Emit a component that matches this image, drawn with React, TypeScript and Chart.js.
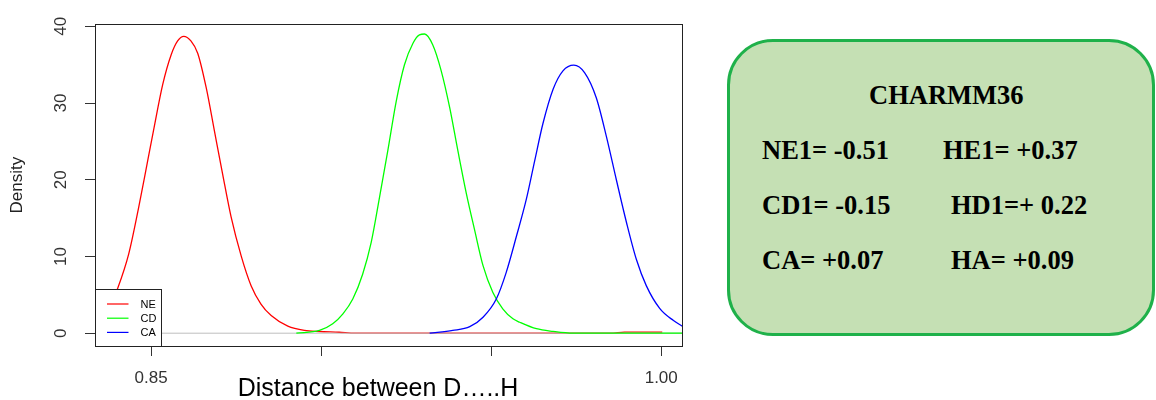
import React, { useEffect, useRef } from 'react';
import { Chart, registerables } from 'chart.js';

Chart.register(...registerables);

// ---- data ----
const neX = [0.8345, 0.8372, 0.8401, 0.8434, 0.8463, 0.8490, 0.8507, 0.8534, 0.8559, 0.8578, 0.8596, 0.8617, 0.8637, 0.8662, 0.8686, 0.8710, 0.8735, 0.8765, 0.8794, 0.8823, 0.8853, 0.8902, 0.8951, 0.8995, 0.9053, 0.9100, 0.9850, 0.9892, 0.9950, 1.0003];
const neY = [0.9, 2.7, 5.75, 10.3, 16.3, 22.5, 26.4, 32.4, 36.3, 38.1, 38.7, 38.1, 36.5, 32.0, 26.4, 20.8, 15.2, 10.05, 6.2, 3.8, 2.3, 0.92, 0.36, 0.22, 0.12, 0.0, 0.0, 0.13, 0.15, 0.13];

const cdX = [0.8927, 0.8995, 0.9034, 0.9064, 0.9093, 0.9122, 0.9147, 0.9172, 0.9196, 0.9221, 0.9245, 0.9270, 0.9289, 0.9304, 0.9328, 0.9353, 0.9378, 0.9402, 0.9427, 0.9451, 0.9476, 0.9505, 0.9534, 0.9564, 0.9584, 0.9633, 0.9682, 0.9740, 1.0070];
const cdY = [0.0, 0.36, 1.23, 2.52, 4.46, 7.69, 11.8, 17.8, 23.8, 30.3, 35.0, 37.8, 38.9, 39.0, 37.6, 34.2, 29.4, 23.8, 18.2, 13.5, 8.8, 5.3, 3.17, 1.87, 1.43, 0.58, 0.23, 0.0, 0.0];

const caX = [0.9319, 0.9387, 0.9437, 0.9476, 0.9515, 0.9544, 0.9574, 0.9603, 0.9628, 0.9652, 0.9682, 0.9711, 0.9743, 0.9775, 0.9809, 0.9839, 0.9868, 0.9898, 0.9927, 0.9956, 0.9996, 1.0036, 1.0070];
const caY = [0.0, 0.36, 0.85, 2.08, 4.46, 7.9, 12.6, 17.4, 22.5, 27.3, 31.8, 34.2, 34.95, 33.95, 30.7, 25.6, 20.0, 14.4, 9.6, 6.2, 3.2, 1.65, 0.7];

const zeroX = [0.8335, 1.0064];
const zeroY = [0, 0];

const seriesLabels = ['NE', 'CD', 'CA'];
const seriesColors = ['#ff0000', '#00ff00', '#0000ff'];

const xTicks = [0.85, 0.9, 0.95, 1.0];
const xLabeledTicks = [0.85, 1.0];
const yTicks = [0, 10, 20, 30, 40];

const X_MIN = 0.8335;
const X_MAX = 1.0064;
const Y_MIN = -1.67;
const Y_MAX = 40.28;

const xTitle = 'Distance between D…..H';
const yTitle = 'Density';

const chargeTitle = 'CHARMM36';
const chargeLeft = ['NE1= -0.51', 'CD1= -0.15', 'CA= +0.07'];
const chargeRight = ['HE1= +0.37', 'HD1=+ 0.22', 'HA= +0.09'];

const zip = (xs: number[], ys: number[]) => xs.map((x, i) => ({ x, y: ys[i] }));

const framePlugin = {
  id: 'rframe',
  afterDatasetsDraw(chart: any) {
    const { ctx, chartArea: a } = chart;
    ctx.save();
    // plot box
    ctx.strokeStyle = '#222';
    ctx.lineWidth = 1;
    ctx.strokeRect(Math.round(a.left) + 0.5, Math.round(a.top) + 0.5, Math.round(a.right - a.left) - 1, Math.round(a.bottom - a.top));
    // legend
    const lw = 66;
    const lh = 57;
    const lx = Math.round(a.left) + 0.5;
    const ly = Math.round(a.bottom) - lh + 0.5;
    ctx.fillStyle = '#ffffff';
    ctx.fillRect(lx, ly, lw, lh);
    ctx.strokeStyle = '#222';
    ctx.strokeRect(lx, ly, lw, lh);
    ctx.font = '11px "Liberation Sans", Arial, sans-serif';
    ctx.textBaseline = 'middle';
    ctx.textAlign = 'left';
    seriesLabels.forEach((lab, i) => {
      const y = ly + 14.5 + i * 14.2;
      ctx.strokeStyle = seriesColors[i];
      ctx.lineWidth = 1.2;
      ctx.beginPath();
      ctx.moveTo(lx + 11.5, y);
      ctx.lineTo(lx + 33, y);
      ctx.stroke();
      ctx.fillStyle = '#000';
      ctx.fillText(lab, lx + 45, y + 0.5);
    });
    // x-axis title (placed like the reference, slightly left of centre)
    ctx.font = '25px "Liberation Sans", Arial, sans-serif';
    ctx.fillStyle = '#000';
    ctx.textAlign = 'center';
    ctx.textBaseline = 'alphabetic';
    ctx.fillText(xTitle, 378, 395.5);
    ctx.restore();
  },
};

function DensityChart() {
  const ref = useRef<HTMLCanvasElement | null>(null);
  useEffect(() => {
    if (!ref.current) return;
    const tickFont = { family: '"Liberation Sans", Arial, sans-serif', size: 17 };
    const chart = new Chart(ref.current, {
      type: 'line',
      data: {
        datasets: [
          { label: seriesLabels[0], data: zip(neX, neY), borderColor: seriesColors[0], borderWidth: 1.3, pointRadius: 0, cubicInterpolationMode: 'monotone', order: 4, fill: false },
          { label: 'zero', data: zip(zeroX, zeroY), borderColor: '#bebebe', borderWidth: 1, pointRadius: 0, order: 3, fill: false },
          { label: seriesLabels[1], data: zip(cdX, cdY), borderColor: seriesColors[1], borderWidth: 1.3, pointRadius: 0, cubicInterpolationMode: 'monotone', order: 2, fill: false },
          { label: seriesLabels[2], data: zip(caX, caY), borderColor: seriesColors[2], borderWidth: 1.3, pointRadius: 0, cubicInterpolationMode: 'monotone', order: 1, fill: false },
        ],
      },
      options: {
        responsive: false,
        animation: false,
        layout: { padding: { top: 21, right: 17, left: 0, bottom: 0 } },
        plugins: { legend: { display: false }, tooltip: { enabled: false } },
        scales: {
          x: {
            type: 'linear',
            min: X_MIN,
            max: X_MAX,
            afterBuildTicks: (s: any) => { s.ticks = xTicks.map((v) => ({ value: v })); },
            afterFit: (s: any) => { s.height = 54; },
            grid: { display: true, drawOnChartArea: false, drawTicks: true, tickLength: 10, tickColor: '#333', tickWidth: 1 },
            border: { display: false },
            ticks: {
              padding: 12,
              color: '#333',
              font: tickFont,
              maxRotation: 0,
              autoSkip: false,
              callback: (v: any) => (xLabeledTicks.some((t) => Math.abs(t - Number(v)) < 1e-9) ? Number(v).toFixed(2) : ''),
            },
            title: { display: false },
          },
          y: {
            type: 'linear',
            min: Y_MIN,
            max: Y_MAX,
            afterBuildTicks: (s: any) => { s.ticks = yTicks.map((v) => ({ value: v })); },
            afterFit: (s: any) => { s.width = 95; },
            grid: { display: true, drawOnChartArea: false, drawTicks: true, tickLength: 10, tickColor: '#333', tickWidth: 1 },
            border: { display: false },
            ticks: {
              padding: 14,
              color: '#333',
              font: tickFont,
              minRotation: 90,
              maxRotation: 90,
              crossAlign: 'center',
              autoSkip: false,
              callback: (v: any) => String(v),
            },
            title: {
              display: true,
              text: yTitle,
              color: '#222',
              font: { family: '"Liberation Sans", Arial, sans-serif', size: 17 },
              padding: { top: 7, bottom: 0 },
            },
          },
        },
      },
      plugins: [framePlugin],
    } as any);
    return () => chart.destroy();
  }, []);
  return <canvas ref={ref} width={700} height={400} style={{ position: 'absolute', left: 0, top: 0, width: 700, height: 400, display: 'block' }} />;
}

const FS = 26.5;
const serif = '"Liberation Serif", "Times New Roman", serif';

function T({ left, baseline, text }: { left: number; baseline: number; text: string }) {
  return (
    <span
      style={{
        position: 'absolute',
        left,
        top: baseline - 0.8375 * FS,
        fontFamily: serif,
        fontWeight: 'bold',
        fontSize: FS,
        lineHeight: `${FS}px`,
        whiteSpace: 'pre',
        color: '#000',
      }}
    >
      {text}
    </span>
  );
}

export default function App() {
  const rowBase = [159, 214, 268.7];
  const rightLeft = [943, 951, 951];
  return (
    <div style={{ position: 'absolute', left: 0, top: 0, width: 1156, height: 400, background: '#fff', overflow: 'hidden' }}>
      <DensityChart />
      <div
        style={{
          position: 'absolute',
          left: 727,
          top: 39,
          width: 428,
          height: 297,
          boxSizing: 'border-box',
          border: '3px solid #1fb14a',
          borderRadius: 46,
          background: '#c5e0b4',
        }}
      />
      <T left={869} baseline={104} text={chargeTitle} />
      {chargeLeft.map((t, i) => (
        <T key={'l' + i} left={762} baseline={rowBase[i]} text={t} />
      ))}
      {chargeRight.map((t, i) => (
        <T key={'r' + i} left={rightLeft[i]} baseline={rowBase[i]} text={t} />
      ))}
    </div>
  );
}
